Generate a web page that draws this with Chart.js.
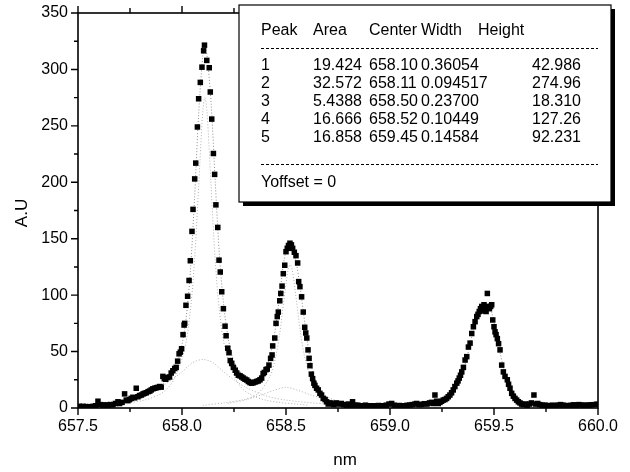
<!DOCTYPE html>
<html>
<head>
<meta charset="utf-8">
<script src="https://cdn.jsdelivr.net/npm/chart.js@4.4.0/dist/chart.umd.min.js"></script>
<style>
  html, body { margin: 0; padding: 0; background: #fff; }
  #wrap { width: 630px; height: 472px; }
</style>
</head>
<body>
<div id="wrap"><canvas id="c" width="630" height="472"></canvas></div>
<script>
const baseLeft = [
  [657.505,1.5],[657.515,1],[657.525,1.5],[657.535,1],[657.545,1.2],[657.555,0.8],[657.565,1],[657.575,1.5],
  [657.585,2],[657.596,6],[657.608,3],[657.62,2.5],[657.632,2.7],[657.644,2.5],[657.656,3],[657.668,2.8],
  [657.68,4],[657.692,5.5],[657.70,4],[657.712,5],[657.724,12.5],[657.732,7],[657.74,6.5],[657.748,7.5],
  [657.756,8.5],[657.764,9.5],[657.772,9],[657.78,17.5],[657.788,10],[657.796,11],[657.805,11.5],[657.813,12.5],
  [657.82,13],[657.828,13.5],[657.837,14.5],[657.845,15],[657.852,16],[657.86,17],[657.869,17.5],[657.877,18],
  [657.885,18.3],[657.893,19],[657.90,18.5]
];
const peakA = [
  [657.908,28],[657.915,26],[657.922,25.5],[657.93,27],[657.94,27.5],[657.948,31],[657.956,33],[657.965,35],
  [657.972,36],[657.979,41.5],[657.986,48],[657.992,49.5],[657.998,52.5],[658.005,65],[658.01,73.5],[658.013,75],
  [658.019,91],[658.027,99],[658.034,113],[658.040,130.5],[658.048,156.5],[658.053,176],[658.061,203],[658.066,217],
  [658.074,249],[658.080,274],[658.088,288.5],[658.096,302],[658.104,316.5],[658.108,321.5],[658.119,308],[658.131,301.5],
  [658.136,280],[658.143,256],[658.151,225.5],[658.157,207],[658.163,180],[658.172,160],[658.178,131],[658.184,120.5],
  [658.191,103],[658.199,88],[658.207,72.5],[658.212,64],[658.220,53],[658.226,49],[658.232,42],[658.239,39.5],
  [658.247,36],[658.256,33.5],[658.263,31],[658.271,29],[658.279,28.5],[658.287,27.5],[658.295,26.5],[658.303,25.5],
  [658.311,24.8],[658.319,23.5],[658.327,22.5],[658.335,22],[658.343,22.4],[658.351,23],[658.359,23.5],[658.367,24]
];
const peakB = [
  [658.375,25],[658.383,26.5],[658.39,30.5],[658.396,31.5],[658.404,34],[658.41,34.5],[658.418,38],[658.426,44],
  [658.433,47],[658.436,55],[658.446,62],[658.452,75],[658.458,81],[658.463,85],[658.470,95],[658.475,101.5],
  [658.481,108],[658.487,119],[658.494,126.5],[658.500,138.5],[658.506,141.5],[658.512,144],[658.519,146],[658.526,144.5],
  [658.532,141.5],[658.540,138],[658.548,135],[658.556,128.5],[658.561,112],[658.567,107.5],[658.575,98.5],[658.583,85],
  [658.590,71.5],[658.595,66.5],[658.600,62],[658.606,51.5],[658.611,44],[658.615,37.5],[658.622,30],[658.628,26],
  [658.634,22],[658.639,20],[658.647,17.5],[658.655,16],[658.663,13],[658.671,11.5],[658.679,8.5],[658.688,7.5],
  [658.695,5.5],[658.703,3.5]
];
const baseMid = [
  [658.712,4.5],[658.72,4],[658.73,3],[658.742,4.5],[658.754,3.5],[658.766,4],[658.778,3],[658.79,2.5],
  [658.80,3.5],[658.812,2.5],[658.82,5.5],[658.832,2.5],[658.845,2.5],[658.858,2],[658.87,2],[658.882,2.5],
  [658.895,1.8],[658.907,2],[658.92,1.8],[658.932,2],[658.945,2.2],[658.958,1.8],[658.97,2],[658.982,2.5],
  [658.995,3.5],[659.008,4],[659.02,2.5],[659.032,2],[659.045,2.2],[659.058,2],[659.07,2],[659.082,2.4],
  [659.095,2.6],[659.107,3],[659.12,3.5],[659.128,4],[659.14,3],[659.152,3.2],[659.165,3.8],[659.178,3.5],
  [659.19,4.5],[659.2,5]
];
const peakC = [
  [659.208,4],[659.216,11.5],[659.224,6],[659.232,4],[659.24,5],[659.248,6],[659.256,7],[659.264,7.5],
  [659.272,8.5],[659.28,10],[659.288,11.5],[659.296,13.5],[659.304,16],[659.312,19],[659.321,22],[659.327,24],
  [659.333,26.5],[659.339,29],[659.345,32],[659.353,36],[659.361,42.5],[659.369,45.5],[659.377,54],[659.385,57.5],
  [659.393,66],[659.401,72],[659.409,76.5],[659.417,81],[659.423,83],[659.429,85.5],[659.435,88],[659.441,90],
  [659.447,86],[659.452,91.5],[659.458,89],[659.462,85.5],[659.468,101.5],[659.473,90],[659.478,88],[659.484,90],
  [659.489,91.5],[659.494,78],[659.50,72],[659.505,67.5],[659.51,65],[659.516,61.5],[659.522,57],[659.529,51.5],
  [659.537,38],[659.545,32],[659.553,28],[659.564,25],[659.570,21],[659.577,17.5],[659.585,13],[659.593,10.5],
  [659.601,8.5],[659.609,7],[659.617,5.5],[659.625,4.5],[659.633,3.5],[659.641,3]
];
const baseRight = [
  [659.65,3.5],[659.66,2.5],[659.67,3.5],[659.68,4.5],[659.692,11.5],[659.70,3.5],[659.71,4],[659.72,3],
  [659.732,2.5],[659.745,2.5],[659.758,2.2],[659.77,2],[659.782,2.5],[659.795,2],[659.808,2.6],[659.82,3],
  [659.832,2.5],[659.845,2.2],[659.858,2],[659.87,2.4],[659.882,2.8],[659.895,2.4],[659.908,3],[659.92,2.6],
  [659.932,2.4],[659.945,2.5],[659.958,2.6],[659.97,2.8],[659.982,3],[659.995,3.4]
];

// fitted curves (dotted)
const fitTotal = [
  [657.5,2],[657.6,3],[657.7,5],[657.8,10],[657.85,14],[657.9,20],[657.95,30],[657.98,42],[658.0,56],[658.02,80],
  [658.04,120],[658.06,185],[658.08,260],[658.1,312],[658.11,318],[658.12,313],[658.14,270],[658.16,200],[658.18,135],
  [658.2,92],[658.22,64],[658.24,47],[658.26,37],[658.29,30],[658.32,26],[658.35,25],[658.38,28],[658.41,38],
  [658.44,60],[658.47,100],[658.49,130],[658.51,144],[658.53,143],[658.55,128],[658.57,104],[658.59,76],[658.61,50],
  [658.63,31],[658.66,16],[658.7,8],[658.75,5],[658.85,3],[659.0,2.5],[659.15,3.5],[659.25,7],[659.3,14],[659.34,27],
  [659.37,45],[659.4,68],[659.43,85],[659.45,90],[659.47,90],[659.49,84],[659.51,66],[659.53,48],[659.56,27],
  [659.6,10],[659.65,4],[659.75,2.5],[660.0,2]
];
const fitPeak1 = [
  [657.5,3],[657.7,6.5],[657.8,11],[657.9,19],[657.95,25],[658.0,32],[658.05,40],[658.1,43],[658.15,40],[658.2,32],
  [658.25,25],[658.3,19],[658.4,11],[658.5,7],[658.7,3.5],[659.0,1.5]
];
const fitPeak2 = [
  [657.61,2.4],[657.81,6.6],[657.91,14],[657.96,25],[658.01,50],[658.04,86],[658.06,130],[658.08,196],[658.10,263],
  [658.11,275],[658.12,263],[658.14,196],[658.16,130],[658.18,86],[658.21,50],[658.26,25],[658.31,14],[658.41,6.6],[658.61,2.4]
];
const fitPeak3 = [
  [658.1,2.3],[658.2,4.5],[658.3,7.6],[658.38,11.5],[658.44,15.5],[658.5,18.3],[658.56,15.5],[658.62,11.5],
  [658.7,7.6],[658.8,4.5],[658.9,2.3],[659.1,1.2]
];
const fitPeak4 = [
  [658.22,4.1],[658.32,8],[658.37,13.7],[658.42,27],[658.45,45],[658.47,66],[658.49,95.5],[658.51,122.5],[658.52,127],
  [658.53,122.5],[658.55,95.5],[658.57,66],[658.59,45],[658.62,27],[658.67,13.7],[658.72,8],[658.82,4.1]
];

// axis ticks
const xMajor = [657.5, 658.0, 658.5, 659.0, 659.5, 660.0];
const xMinor = [657.75, 658.25, 658.75, 659.25, 659.75];
const yMajor = [0, 50, 100, 150, 200, 250, 300, 350];
const yMinor = [25, 75, 125, 175, 225, 275, 325];

// inset table
const tableHead = ['Peak', 'Area', 'Center', 'Width', 'Height'];
const peakNo    = ['1', '2', '3', '4', '5'];
const peakArea  = ['19.424', '32.572', '5.4388', '16.666', '16.858'];
const peakCtr   = ['658.10', '658.11', '658.50', '658.52', '659.45'];
const peakWid   = ['0.36054', '0.094517', '0.23700', '0.10449', '0.14584'];
const peakHt    = ['42.986', '274.96', '18.310', '127.26', '92.231'];

const FONT = '"Liberation Sans", Arial, Helvetica, sans-serif';
const toPts = arr => arr.map(p => ({ x: p[0], y: p[1] }));

const fitStyle = { type: 'line', showLine: true, pointRadius: 0, borderColor: '#8a8a8a', borderWidth: 1, borderDash: [1, 2], fill: false, tension: 0.3 };

const framePlugin = {
  id: 'frame',
  afterDraw(chart) {
    const { ctx, chartArea: a } = chart;
    const xs = chart.scales.x, ys = chart.scales.y;
    ctx.save();
    ctx.strokeStyle = '#000';
    ctx.fillStyle = '#000';
    ctx.lineWidth = 1.6;
    ctx.strokeRect(a.left, a.top, a.right - a.left, a.bottom - a.top);

    ctx.lineWidth = 1.4;
    ctx.beginPath();
    xMajor.forEach(v => {
      const px = xs.getPixelForValue(v);
      ctx.moveTo(px, a.bottom); ctx.lineTo(px, a.bottom + 7);
      ctx.moveTo(px, a.top); ctx.lineTo(px, a.top - 7);
    });
    xMinor.forEach(v => {
      const px = xs.getPixelForValue(v);
      ctx.moveTo(px, a.bottom); ctx.lineTo(px, a.bottom + 4);
      ctx.moveTo(px, a.top); ctx.lineTo(px, a.top - 5);
    });
    yMajor.forEach(v => {
      const py = ys.getPixelForValue(v);
      ctx.moveTo(a.left, py); ctx.lineTo(a.left - 7, py);
    });
    yMinor.forEach(v => {
      const py = ys.getPixelForValue(v);
      ctx.moveTo(a.left, py); ctx.lineTo(a.left - 4, py);
    });
    ctx.stroke();

    ctx.font = '16px ' + FONT;
    ctx.textAlign = 'center';
    ctx.textBaseline = 'middle';
    xMajor.forEach(v => ctx.fillText(v.toFixed(1), xs.getPixelForValue(v), a.bottom + 19));
    ctx.textAlign = 'right';
    yMajor.forEach(v => ctx.fillText(String(v), a.left - 10, ys.getPixelForValue(v)));

    ctx.font = '17px ' + FONT;
    ctx.textAlign = 'center';
    ctx.fillText('nm', (a.left + a.right) / 2 + 7, 460);
    ctx.save();
    ctx.translate(22, 213);
    ctx.rotate(-Math.PI / 2);
    ctx.fillText('A.U', 0, 0);
    ctx.restore();

    // inset box with shadow
    const bx = 239, by = 5, bw = 372, bh = 197;
    ctx.fillRect(bx + bw, by + 4, 4, bh);
    ctx.fillRect(bx + 4, by + bh, bw, 4);
    ctx.fillStyle = '#fff';
    ctx.fillRect(bx, by, bw, bh);
    ctx.lineWidth = 1.2;
    ctx.strokeRect(bx, by, bw, bh);

    ctx.fillStyle = '#000';
    ctx.font = '16px ' + FONT;
    ctx.textAlign = 'left';
    const cols = [261, 313, 369, 421, 478];
    tableHead.forEach((t, i) => ctx.fillText(t, cols[i], 31));
    const rowY = [66, 84, 102, 120, 138];
    rowY.forEach((ry, i) => {
      ctx.fillText(peakNo[i], 261, ry);
      ctx.fillText(peakArea[i], 313, ry);
      ctx.fillText(peakCtr[i], 369, ry);
      ctx.fillText(peakWid[i], 421, ry);
      ctx.fillText(peakHt[i], 532, ry);
    });
    ctx.fillText('Yoffset = 0', 261, 183);

    ctx.lineWidth = 1;
    ctx.setLineDash([3, 2]);
    ctx.beginPath();
    ctx.moveTo(261, 48.5); ctx.lineTo(598, 48.5);
    ctx.moveTo(261, 164.5); ctx.lineTo(598, 164.5);
    ctx.stroke();
    ctx.restore();
  }
};

const markers = [baseLeft, peakA, peakB, baseMid, peakC, baseRight].flat();

new Chart(document.getElementById('c'), {
  type: 'scatter',
  data: {
    datasets: [
      { label: 'data', data: toPts(markers), pointStyle: 'rect', radius: 3.9, backgroundColor: '#000', borderColor: '#000', borderWidth: 0 },
      { label: 'fit', data: toPts(fitTotal), ...fitStyle },
      { label: 'p1', data: toPts(fitPeak1), ...fitStyle, borderColor: '#b0b0b0' },
      { label: 'p2', data: toPts(fitPeak2), ...fitStyle, borderColor: '#b0b0b0' },
      { label: 'p3', data: toPts(fitPeak3), ...fitStyle, borderColor: '#b0b0b0' },
      { label: 'p4', data: toPts(fitPeak4), ...fitStyle, borderColor: '#b0b0b0' },
    ]
  },
  options: {
    responsive: false, animation: false, devicePixelRatio: 1,
    layout: { padding: { left: 78, top: 13, right: 32, bottom: 64 } },
    plugins: { legend: { display: false }, tooltip: { enabled: false } },
    scales: {
      x: { type: 'linear', min: 657.5, max: 660.0, display: false },
      y: { type: 'linear', min: 0, max: 350, display: false }
    }
  },
  plugins: [framePlugin],
});
</script>
</body>
</html>
